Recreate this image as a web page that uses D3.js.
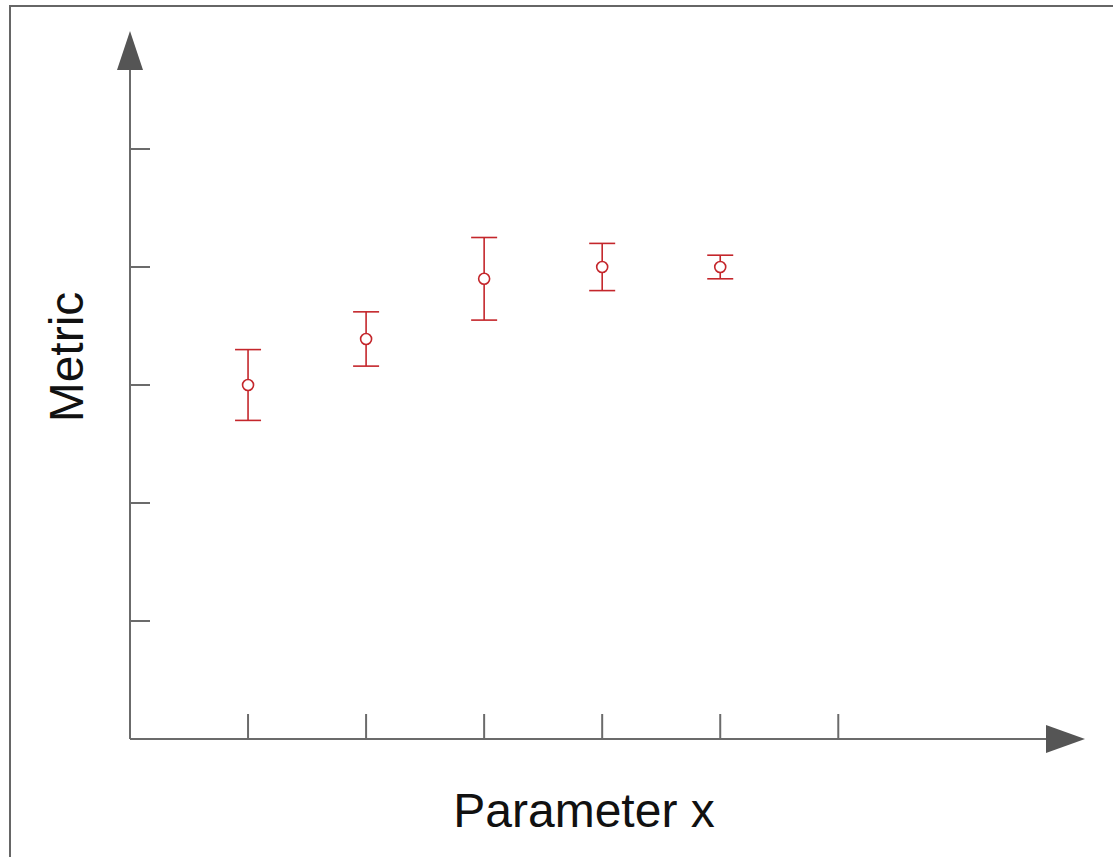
<!DOCTYPE html>
<html>
<head>
<meta charset="utf-8">
<script src="https://cdn.jsdelivr.net/npm/d3@7"></script>
<style>
  body { margin: 0; background: #fff; }
</style>
</head>
<body>
<script>
// data
var xs = [1, 2, 3, 4, 5];
var means = [3.0, 3.39, 3.9, 4.0, 4.0];
var errs = [0.30, 0.23, 0.35, 0.20, 0.10];
var xTicks = [1, 2, 3, 4, 5, 6];
var yTicks = [1, 2, 3, 4, 5];

var svg = d3.select("body")
    .append("svg")
    .attr("width", 1113)
    .attr("height", 857);

// frame (only top and left edges show)
svg.append("rect")
    .attr("x", 10)
    .attr("y", 6)
    .attr("width", 1200)
    .attr("height", 900)
    .attr("fill", "none")
    .attr("stroke", "#666")
    .attr("stroke-width", 2);

var x = d3.scaleLinear().domain([0, 8.09]).range([130, 1085]);
var y = d3.scaleLinear().domain([0, 6]).range([739, 31]);

var axisColor = "#6b6b6b";

// y axis line + arrow
svg.append("line")
    .attr("x1", x(0)).attr("y1", y(0))
    .attr("x2", x(0)).attr("y2", y(5.7))
    .attr("stroke", axisColor).attr("stroke-width", 2);
svg.append("path")
    .attr("d", "M " + x(0) + " " + y(6) + " L " + (x(0) - 13) + " " + (y(6) + 39) + " L " + (x(0) + 13) + " " + (y(6) + 39) + " Z")
    .attr("fill", "#555");

// x axis line + arrow
svg.append("line")
    .attr("x1", x(0)).attr("y1", y(0))
    .attr("x2", x(7.8)).attr("y2", y(0))
    .attr("stroke", axisColor).attr("stroke-width", 2);
svg.append("path")
    .attr("d", "M " + x(8.09) + " " + y(0) + " L " + (x(8.09) - 39) + " " + (y(0) - 14) + " L " + (x(8.09) - 39) + " " + (y(0) + 14) + " Z")
    .attr("fill", "#555");

// ticks
svg.selectAll(".xtick")
    .data(xTicks)
    .enter().append("line")
    .attr("x1", function (d) { return x(d); })
    .attr("x2", function (d) { return x(d); })
    .attr("y1", y(0))
    .attr("y2", y(0) - 25)
    .attr("stroke", axisColor).attr("stroke-width", 2);

svg.selectAll(".ytick")
    .data(yTicks)
    .enter().append("line")
    .attr("x1", x(0))
    .attr("x2", x(0) + 20)
    .attr("y1", function (d) { return y(d); })
    .attr("y2", function (d) { return y(d); })
    .attr("stroke", axisColor).attr("stroke-width", 2);

// error bars
var red = "#c4262b";
var cap = 13;
var g = svg.selectAll(".pt")
    .data(xs)
    .enter().append("g");

g.append("line")
    .attr("x1", function (d) { return x(d); })
    .attr("x2", function (d) { return x(d); })
    .attr("y1", function (d, i) { return y(means[i] + errs[i]); })
    .attr("y2", function (d, i) { return y(means[i] - errs[i]); })
    .attr("stroke", red).attr("stroke-width", 1.6);
g.append("line")
    .attr("x1", function (d) { return x(d) - cap; })
    .attr("x2", function (d) { return x(d) + cap; })
    .attr("y1", function (d, i) { return y(means[i] + errs[i]); })
    .attr("y2", function (d, i) { return y(means[i] + errs[i]); })
    .attr("stroke", red).attr("stroke-width", 1.6);
g.append("line")
    .attr("x1", function (d) { return x(d) - cap; })
    .attr("x2", function (d) { return x(d) + cap; })
    .attr("y1", function (d, i) { return y(means[i] - errs[i]); })
    .attr("y2", function (d, i) { return y(means[i] - errs[i]); })
    .attr("stroke", red).attr("stroke-width", 1.6);
g.append("circle")
    .attr("cx", function (d) { return x(d); })
    .attr("cy", function (d, i) { return y(means[i]); })
    .attr("r", 5.5)
    .attr("fill", "#fff")
    .attr("stroke", red).attr("stroke-width", 1.6);

// labels
svg.append("text")
    .attr("x", 584)
    .attr("y", 827)
    .attr("text-anchor", "middle")
    .style("font-family", "'Liberation Sans', Arial, sans-serif")
    .style("font-size", "48px")
    .attr("fill", "#111")
    .text("Parameter x");

svg.append("text")
    .attr("transform", "translate(83,357) rotate(-90)")
    .attr("text-anchor", "middle")
    .style("font-family", "'Liberation Sans', Arial, sans-serif")
    .style("font-size", "48px")
    .attr("fill", "#111")
    .text("Metric");
</script>
</body>
</html>
